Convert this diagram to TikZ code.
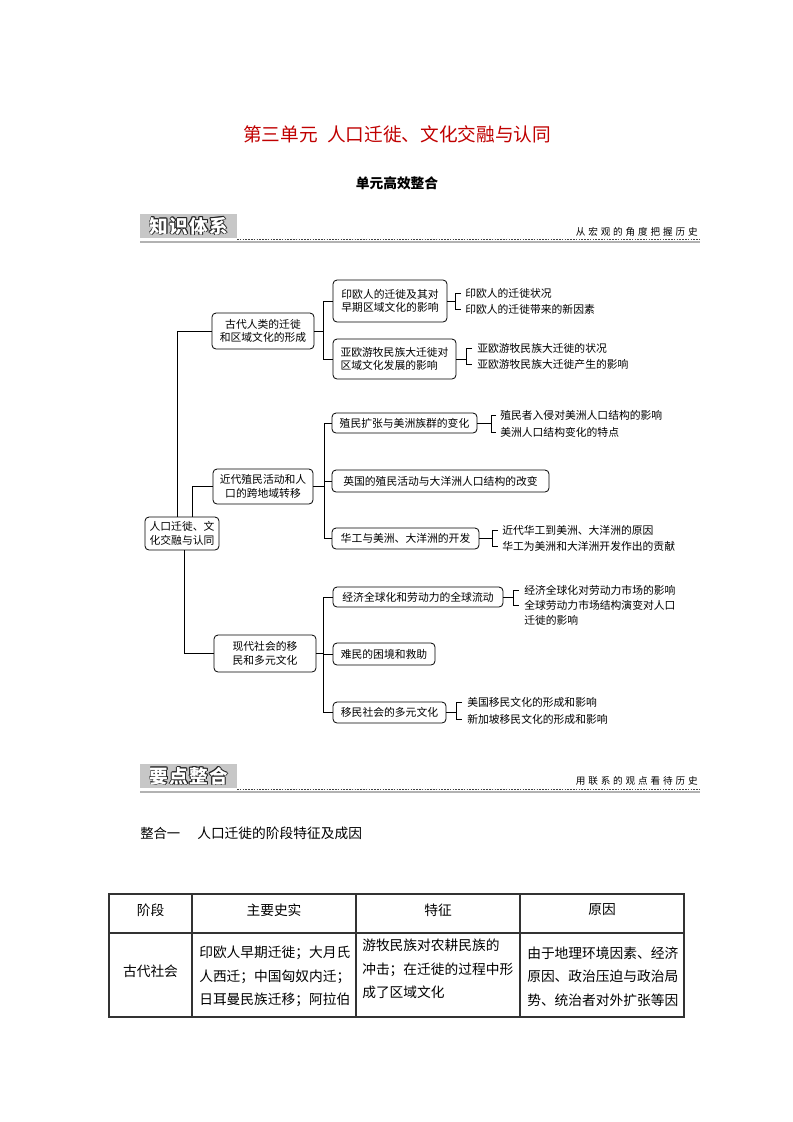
\documentclass[tikz,border=0pt]{standalone}
\usepackage{fontspec}
\setmainfont{Noto Sans CJK SC}
\usetikzlibrary{calc}
\definecolor{titlered}{RGB}{192,0,0}
\newcommand\outltext[1]{%
  \leavevmode
  \rlap{\kern-0.6pt\textcolor{black!85}{#1}}%
  \rlap{\kern0.6pt\textcolor{black!85}{#1}}%
  \rlap{\raisebox{0.6pt}{\textcolor{black!85}{#1}}}%
  \rlap{\raisebox{-0.6pt}{\textcolor{black!85}{#1}}}%
  \rlap{\kern-0.45pt\raisebox{0.45pt}{\textcolor{black!85}{#1}}}%
  \rlap{\kern0.45pt\raisebox{0.45pt}{\textcolor{black!85}{#1}}}%
  \rlap{\kern-0.45pt\raisebox{-0.45pt}{\textcolor{black!85}{#1}}}%
  \rlap{\kern0.45pt\raisebox{-0.45pt}{\textcolor{black!85}{#1}}}%
  \textcolor{white}{#1}}
\begin{document}
\begin{tikzpicture}[x=0.75pt,y=-0.75pt,
  bx/.style={draw, rounded corners=3pt, line width=0.6pt, inner sep=0pt,
    font=\fontsize{8.1pt}{10.2pt}\selectfont, align=center},
  sz/.style 2 args={minimum width=#1*0.75pt, minimum height=#2*0.75pt},
  leaf/.style={anchor=west, inner sep=0pt, font=\fontsize{8.1pt}{10pt}\selectfont},
  ln/.style={line width=0.6pt},
  tbl/.style={line width=1pt, black!80},
  tbt/.style={inner sep=0pt, font=\fontsize{10.3pt}{17.6pt}\selectfont, align=left},
  hdbox/.style={fill=black!22},
  hdline/.style={black!30, line width=2pt},
  hddash/.style={black!75, line width=0.5pt, dash pattern=on 1.2pt off 0.9pt},
  hdright/.style={anchor=east, inner sep=0pt, font=\fontsize{7.2pt}{8pt}\selectfont},
  hdtext/.style={inner sep=0pt, font=\fontsize{14pt}{15pt}\selectfont\bfseries}
]
\fill[white] (0,0) rectangle (793,1122);
\useasboundingbox (0,0) rectangle (793,1122);

% title
\node[text=titlered, inner sep=0pt] (title) at (397,134)
  {\fontsize{14pt}{16pt}\selectfont 第三单元\hspace{0.5em}人口迁徙、文化交融与认同};
\node[inner sep=0pt] (sub) at (397,183) {\fontsize{10.3pt}{12pt}\selectfont\bfseries 单元高效整合};

% header 1
\fill[hdbox] (140,214) rectangle (237,238);
\draw[hdline] (140,242) -- (700,242);
\draw[hddash] (237,239.5) -- (700,239.5);
\node[hdtext] (h1) at (189,226) {\addfontfeature{LetterSpace=6}\outltext{知识体系}};
\node[hdright] (h1r) at (698,232) {\addfontfeature{LetterSpace=30}从宏观的角度把握历史};

% tree: level 1
\node[bx, sz={74}{33}] (root) at (182,533.5) {人口迁徙、文\\化交融与认同};
\node[bx, sz={102}{36}] (gudai) at (263,331) {古代人类的迁徙\\和区域文化的形成};
\node[bx, sz={100}{35}] (jindai) at (263,486.5) {近代殖民活动和人\\口的跨地域转移};
\node[bx, sz={102}{37}] (xiandai) at (265,653.5) {现代社会的移\\民和多元文化};

% level 2
\node[bx, sz={114}{42}, align=left] (yinou) at (390,301) {印欧人的迁徙及其对\\早期区域文化的影响};
\node[bx, sz={123}{40}, align=left] (yaou) at (394.5,359) {亚欧游牧民族大迁徙对\\区域文化发展的影响};
\node[bx, sz={145}{20}] (zhimin) at (404.5,423) {殖民扩张与美洲族群的变化};
\node[bx, sz={217}{22}] (yingguo) at (440.5,481) {英国的殖民活动与大洋洲人口结构的改变};
\node[bx, sz={147}{21}] (huagong) at (405.5,538.5) {华工与美洲、大洋洲的开发};
\node[bx, sz={170}{20}] (jingji) at (418,597) {经济全球化和劳动力的全球流动};
\node[bx, sz={102}{22}] (nanmin) at (384,654) {难民的困境和救助};
\node[bx, sz={113}{21}] (yimin) at (389.5,712.5) {移民社会的多元文化};

% leaves
\node[leaf] (yl1) at (465,293) {印欧人的迁徙状况};
\node[leaf] (yl2) at (465,309) {印欧人的迁徙带来的新因素};
\node[leaf] (al1) at (477,348) {亚欧游牧民族大迁徙的状况};
\node[leaf] (al2) at (477,364) {亚欧游牧民族大迁徙产生的影响};
\node[leaf] (zl1) at (500,415) {殖民者入侵对美洲人口结构的影响};
\node[leaf] (zl2) at (500,432) {美洲人口结构变化的特点};
\node[leaf] (hl1) at (502,530) {近代华工到美洲、大洋洲的原因};
\node[leaf] (hl2) at (502,546) {华工为美洲和大洋洲开发作出的贡献};
\node[leaf] (jl1) at (524,590) {经济全球化对劳动力市场的影响};
\node[leaf] (jl2) at (524,605) {全球劳动力市场结构演变对人口};
\node[leaf] (jl3) at (524,620) {迁徙的影响};
\node[leaf] (ml1) at (467,702) {美国移民文化的形成和影响};
\node[leaf] (ml2) at (467,719) {新加坡移民文化的形成和影响};

% trunk connectors
\draw[ln] ([xshift=-3.75pt]root.north) |- (gudai.west);
\draw[ln] ([xshift=7.5pt]root.north) |- (jindai.west);
\draw[ln] ([xshift=1.5pt]root.south) |- (xiandai.west);

% level 2 connectors
\coordinate (gv) at ($(yinou.west)+(-9,0)$);
\draw[ln] (gudai.east) -- (gudai.east -| gv);
\draw[ln] (yinou.west) -- (gv) |- (yaou.west);
\coordinate (jv) at ($(zhimin.west)+(-7,0)$);
\draw[ln] (jindai.east) -- (jindai.east -| jv);
\draw[ln] (zhimin.west) -- (jv) |- (huagong.west);
\draw[ln] (yingguo.west) -- (yingguo.west -| jv);
\coordinate (xv) at ($(jingji.west)+(-9,0)$);
\draw[ln] (xiandai.east) -- (xiandai.east -| xv);
\draw[ln] (jingji.west) -- (xv) |- (yimin.west);
\draw[ln] (nanmin.west) -- (nanmin.west -| xv);

% brackets
\coordinate (yb) at ($(yl1.west)+(-10,0)$);
\draw[ln] ($(yl1.west)+(-4,0)$) -- (yb) -- (yb |- yl2.west) -- ($(yl2.west)+(-4,0)$);
\draw[ln] (yinou.east) -- (yinou.east -| yb);
\coordinate (ab) at ($(al1.west)+(-11,0)$);
\draw[ln] ($(al1.west)+(-5,0)$) -- (ab) -- (ab |- al2.west) -- ($(al2.west)+(-5,0)$);
\draw[ln] (yaou.east) -- (yaou.east -| ab);
\coordinate (zb) at ($(zl1.west)+(-9,0)$);
\draw[ln] ($(zl1.west)+(-4,0)$) -- (zb) -- (zb |- zl2.west) -- ($(zl2.west)+(-4,0)$);
\draw[ln] (zhimin.east) -- (zhimin.east -| zb);
\coordinate (hb) at ($(hl1.west)+(-10,0)$);
\draw[ln] ($(hl1.west)+(-4,0)$) -- (hb) -- (hb |- hl2.west) -- ($(hl2.west)+(-4,0)$);
\draw[ln] (huagong.east) -- (huagong.east -| hb);
\coordinate (jb) at ($(jl1.west)+(-11,0)$);
\draw[ln] ($(jl1.west)+(-5,0)$) -- (jb) -- (jb |- jl2.west) -- ($(jl2.west)+(-5,0)$);
\draw[ln] (jingji.east) -- (jingji.east -| jb);
\coordinate (mb) at ($(ml1.west)+(-11,0)$);
\draw[ln] ($(ml1.west)+(-5,0)$) -- (mb) -- (mb |- ml2.west) -- ($(ml2.west)+(-5,0)$);
\draw[ln] (yimin.east) -- (yimin.east -| mb);

% header 2
\fill[hdbox] (140,764) rectangle (237,788);
\draw[hdline] (140,792) -- (700,792);
\draw[hddash] (237,789.5) -- (700,789.5);
\node[hdtext] (h2) at (189,776) {\addfontfeature{LetterSpace=6}\outltext{要点整合}};
\node[hdright] (h2r) at (698,781) {\addfontfeature{LetterSpace=30}用联系的观点看待历史};

% section heading
\node[anchor=west, inner sep=0pt, font=\fontsize{10pt}{12pt}\selectfont] (s1) at (140,833) {整合一};
\node[anchor=west, inner sep=0pt, font=\fontsize{10.3pt}{12pt}\selectfont] (s2) at (197,833) {人口迁徙的阶段特征及成因};

% table
\draw[tbl] (109,894) rectangle (684,1017);
\draw[tbl] (109,933) -- (684,933);
\draw[tbl] (192,894) -- (192,1017);
\draw[tbl] (356,894) -- (356,1017);
\draw[tbl] (520,894) -- (520,1017);
\node[tbt] (t11) at (150.5,910) {阶段};
\node[tbt] (t12) at (274,910) {主要史实};
\node[tbt] (t13) at (438,910) {特征};
\node[tbt] (t14) at (602,910) {原因};
\node[tbt] (t21) at (150.5,971) {古代社会};
\node[tbt, anchor=west] (t22) at (199,976.5) {印欧人早期迁徙；大月氏\\人西迁；中国匈奴内迁；\\日耳曼民族迁移；阿拉伯};
\node[tbt, anchor=west] (t23) at (362,969) {游牧民族对农耕民族的\\冲击；在迁徙的过程中形\\成了区域文化};
\node[tbt, anchor=west] (t24) at (527,976.5) {由于地理环境因素、经济\\原因、政治压迫与政治局\\势、统治者对外扩张等因};
\end{tikzpicture}
\end{document}
